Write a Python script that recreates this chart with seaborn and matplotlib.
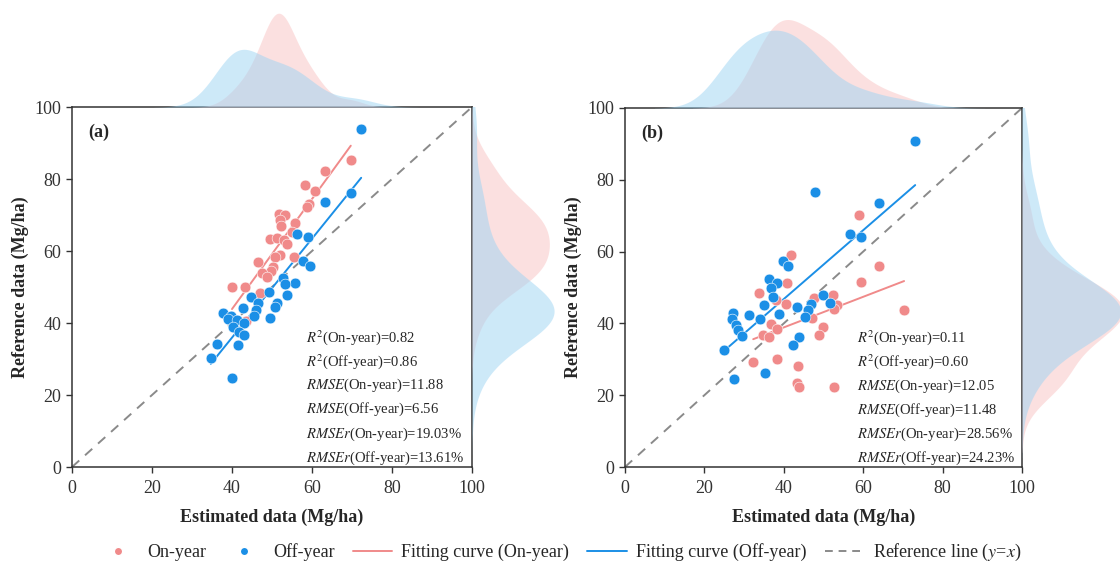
import numpy as np
import pandas as pd
import matplotlib
matplotlib.use('Agg')
import matplotlib.pyplot as plt
import seaborn as sns
from matplotlib.lines import Line2D

# panel (a): estimated vs reference (Mg/ha)
a_on_est = [69.7, 63.3, 58.2, 60.8, 59.3, 58.7, 51.8, 53.3, 52.0, 52.2, 55.7, 49.5, 51.3, 53.0,
            53.8, 55.0, 52.0, 50.8, 46.5, 50.2, 49.7, 47.5, 48.7, 55.5, 40.0, 43.3, 47.0, 43.5]
a_on_ref = [85.3, 82.3, 78.3, 76.7, 73.0, 72.1, 70.3, 70.1, 68.6, 66.9, 67.9, 63.2, 63.6, 63.1,
            61.9, 65.4, 58.9, 58.4, 56.9, 55.6, 54.5, 53.8, 52.7, 58.2, 50.1, 50.1, 48.4, 40.6]
a_off_est = [72.3, 69.7, 63.3, 56.3, 59.0, 57.8, 59.5, 52.8, 55.8, 53.3, 53.8, 49.3, 51.2, 50.8,
             44.8, 42.8, 46.6, 46.0, 45.5, 49.5, 37.8, 39.7, 39.1, 41.2, 40.3, 43.0, 41.8, 43.0,
             41.5, 36.3, 34.7, 39.9]
a_off_ref = [93.9, 76.2, 73.7, 64.7, 64.0, 57.3, 55.8, 52.4, 51.0, 50.8, 47.8, 48.7, 45.6, 44.5,
             47.3, 44.3, 45.5, 43.6, 41.9, 41.3, 42.7, 41.9, 41.0, 40.8, 39.0, 39.9, 37.6, 36.7,
             33.9, 34.2, 30.2, 24.6]

# panel (b)
b_on_est = [58.9, 41.9, 64.1, 59.4, 40.9, 33.8, 52.5, 47.6, 40.6, 38.0, 53.3, 52.6, 47.1, 36.9,
            38.4, 34.8, 36.3, 49.9, 48.9, 70.3, 38.4, 32.3, 43.6, 43.4, 43.9, 52.6]
b_on_ref = [70.2, 59.1, 56.0, 51.6, 51.2, 48.4, 47.9, 47.0, 45.4, 46.5, 45.1, 43.9, 41.4, 39.8,
            38.4, 36.8, 36.1, 38.9, 36.8, 43.7, 30.0, 29.3, 28.1, 23.3, 22.2, 22.2]
b_off_est = [73.1, 47.9, 64.1, 56.8, 59.5, 39.9, 41.1, 36.3, 38.2, 36.7, 37.2, 35.0, 34.0, 31.3,
             38.7, 43.4, 46.8, 46.2, 45.3, 49.9, 51.6, 27.3, 26.9, 28.0, 28.5, 29.4, 25.0, 43.9,
             42.2, 35.3, 27.5]
b_off_ref = [90.9, 76.6, 73.5, 64.9, 64.2, 57.5, 56.0, 52.5, 51.2, 49.8, 47.4, 45.0, 41.1, 42.3,
             42.6, 44.5, 45.3, 43.7, 41.9, 47.9, 45.6, 43.0, 41.1, 39.6, 38.2, 36.5, 32.6, 36.3,
             34.0, 26.1, 24.4]

stat_names = [r'$R^2$(On-year)=', r'$R^2$(Off-year)=', r'$RMSE$(On-year)=',
              r'$RMSE$(Off-year)=', r'$RMSEr$(On-year)=', r'$RMSEr$(Off-year)=']
a_stats = ['0.82', '0.86', '11.88', '6.56', '19.03%', '13.61%']
b_stats = ['0.11', '0.60', '12.05', '11.48', '28.56%', '24.23%']

PINK = '#f08a8a'
BLUE = '#1b8fe6'
PINK_FILL = '#f9c2c2'
BLUE_FILL = '#9dd4f3'

sns.set_style('ticks')
plt.rcParams['font.family'] = ['Liberation Serif', 'DejaVu Serif']
plt.rcParams['mathtext.fontset'] = 'stix'
plt.rcParams['axes.edgecolor'] = '#333333'
plt.rcParams['xtick.color'] = '#333333'
plt.rcParams['ytick.color'] = '#333333'


def draw_panel(fig, rect, top_h, right_w, on_x, on_y, off_x, off_y, tag, stats):
    ax = fig.add_axes(rect)
    l, b, w, h = rect
    ax_top = fig.add_axes([l, b + h, w, top_h], sharex=ax)
    ax_right = fig.add_axes([l + w, b, right_w, h], sharey=ax)

    on = pd.DataFrame({'est': on_x, 'ref': on_y})
    off = pd.DataFrame({'est': off_x, 'ref': off_y})

    # marginal kde first so the points sit on top
    for d, c in [(on, PINK_FILL), (off, BLUE_FILL)]:
        sns.kdeplot(x=d['est'], ax=ax_top, fill=True, color=c, alpha=0.5, linewidth=0)
        sns.kdeplot(y=d['ref'], ax=ax_right, fill=True, color=c, alpha=0.5, linewidth=0)
    ax_top.set_ylim(0, None)
    ax_right.set_xlim(0, None)
    ax_top.axis('off')
    ax_right.axis('off')

    ax.plot([0, 100], [0, 100], ls=(0, (5, 4)), color='#8a8a8a', lw=1.4, zorder=1)
    sns.regplot(data=on, x='est', y='ref', ax=ax, scatter=False, ci=None,
                line_kws={'color': PINK, 'lw': 1.4, 'zorder': 2})
    sns.regplot(data=off, x='est', y='ref', ax=ax, scatter=False, ci=None,
                line_kws={'color': BLUE, 'lw': 1.4, 'zorder': 2})
    sns.scatterplot(data=on, x='est', y='ref', ax=ax, color=PINK, s=60,
                    edgecolor='white', linewidth=0.4, zorder=3)
    sns.scatterplot(data=off, x='est', y='ref', ax=ax, color=BLUE, s=60,
                    edgecolor='white', linewidth=0.4, zorder=3)

    ax.set_xlim(0, 100)
    ax.set_ylim(0, 100)
    ax.set_xticks(range(0, 101, 20))
    ax.set_yticks(range(0, 101, 20))
    ax.tick_params(labelsize=13, length=4, width=1)
    ax.tick_params(axis='x', pad=5)
    for s in ax.spines.values():
        s.set_visible(True)
        s.set_linewidth(1.1)
    ax.set_xlabel('Estimated data (Mg/ha)', fontsize=13, fontweight='bold', labelpad=9)
    ax.set_ylabel('Reference data (Mg/ha)', fontsize=13, fontweight='bold')
    ax.text(4, 93, tag, fontsize=13, fontweight='bold', va='center')
    for i, (name, val) in enumerate(zip(stat_names, stats)):
        ax.text(58.5, 36 - i * 6.7, name + val, fontsize=10.5, va='center')
    return ax


fig = plt.figure(figsize=(11.2, 5.63), dpi=100)
draw_panel(fig, [0.0643, 0.1705, 0.3571, 0.6394], 0.175, 0.077,
           a_on_est, a_on_ref, a_off_est, a_off_ref, '(a)', a_stats)
draw_panel(fig, [0.558, 0.1705, 0.3545, 0.6377], 0.165, 0.095,
           b_on_est, b_on_ref, b_off_est, b_off_ref, '(b)', b_stats)

handles = [
    Line2D([], [], marker='o', ls='', color=PINK, markersize=6, markeredgecolor='white'),
    Line2D([], [], marker='o', ls='', color=BLUE, markersize=6, markeredgecolor='white'),
    Line2D([], [], color=PINK, lw=1.4),
    Line2D([], [], color=BLUE, lw=1.4),
    Line2D([], [], color='#8a8a8a', lw=1.4, ls=(0, (4, 3))),
]
labels = ['On-year', 'Off-year', 'Fitting curve (On-year)', 'Fitting curve (Off-year)',
          r'Reference line ($y$=$x$)']
fig.legend(handles, labels, loc='center', bbox_to_anchor=(0.5, 0.018), ncol=5,
           frameon=False, fontsize=13, handlelength=2.2, columnspacing=1.0, handletextpad=0.5)

fig.savefig('out.png', dpi=100)
